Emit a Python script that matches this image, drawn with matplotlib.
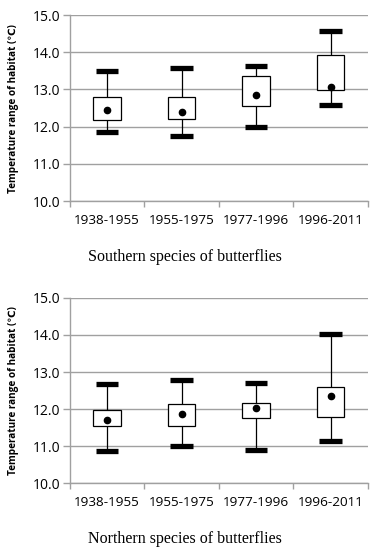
import matplotlib.pyplot as plt
import numpy as np

periods = ['1938-1955', '1955-1975', '1977-1996', '1996-2011']

# southern species
s_low = [11.85, 11.75, 12.00, 12.57]
s_q1 = [12.17, 12.21, 12.55, 12.98]
s_mean = [12.45, 12.40, 12.84, 13.06]
s_q3 = [12.79, 12.79, 13.36, 13.93]
s_high = [13.49, 13.59, 13.63, 14.58]

# northern species
n_low = [10.87, 11.00, 10.90, 11.13]
n_q1 = [11.55, 11.55, 11.75, 11.80]
n_mean = [11.72, 11.86, 12.02, 12.36]
n_q3 = [11.98, 12.13, 12.16, 12.60]
n_high = [12.69, 12.80, 12.71, 14.03]

yticks = [10.0, 11.0, 12.0, 13.0, 14.0, 15.0]
grey = '#a0a0a0'

fig = plt.figure(figsize=(3.78, 5.5), dpi=100)


def draw(ax, low, q1, mean, q3, high):
    x = np.arange(len(periods))
    ax.vlines(x, low, high, color='black', lw=0.9, zorder=2)
    ax.bar(x, np.array(q3) - np.array(q1), bottom=q1, width=0.37,
           facecolor='white', edgecolor='black', lw=0.9, zorder=3)
    ax.hlines(low, x - 0.15, x + 0.15, color='black', lw=3.8, zorder=4)
    ax.hlines(high, x - 0.15, x + 0.15, color='black', lw=3.8, zorder=4)
    ax.plot(x, mean, 'o', color='black', ms=4.5, zorder=5)

    ax.set_xlim(-0.5, len(periods) - 0.5)
    ax.set_ylim(10, 15)
    ax.set_yticks(yticks)
    ax.set_yticklabels(['%.1f' % v for v in yticks], fontsize=10, family='Open Sans')
    ax.set_xticks(x)
    ax.set_xticklabels(periods, fontsize=9.7, family='Open Sans')
    ax.set_xticks(np.arange(-0.5, len(periods)), minor=True)
    ax.tick_params(axis='x', which='major', length=0, pad=9)
    ax.tick_params(axis='x', which='minor', length=4, color=grey, width=1)
    ax.tick_params(axis='y', length=5, color=grey, width=1, pad=2)
    ax.yaxis.grid(True, color=grey, lw=1)
    ax.set_axisbelow(True)
    for s in ['top', 'right']:
        ax.spines[s].set_visible(False)
    for s in ['left', 'bottom']:
        ax.spines[s].set_color(grey)
        ax.spines[s].set_linewidth(1)
    ax.set_ylabel('Temperature range of habitat (℃)', fontsize=7.2,
                  fontweight='bold', family=['Open Sans', 'DejaVu Sans'])
    ax.yaxis.set_label_coords(-0.172, 0.5)


ax1 = fig.add_axes([0.185, 0.6345, 0.788, 0.338])
draw(ax1, s_low, s_q1, s_mean, s_q3, s_high)
ax2 = fig.add_axes([0.185, 0.121, 0.788, 0.3375])
draw(ax2, n_low, n_q1, n_mean, n_q3, n_high)

fig.text(185 / 378, 1 - 257 / 550, 'Southern species of butterflies', ha='center',
         va='center', fontsize=11.5, family='Liberation Serif')
fig.text(185 / 378, 1 - 539 / 550, 'Northern species of butterflies', ha='center',
         va='center', fontsize=11.5, family='Liberation Serif')

fig.savefig('out.png', dpi=100)
